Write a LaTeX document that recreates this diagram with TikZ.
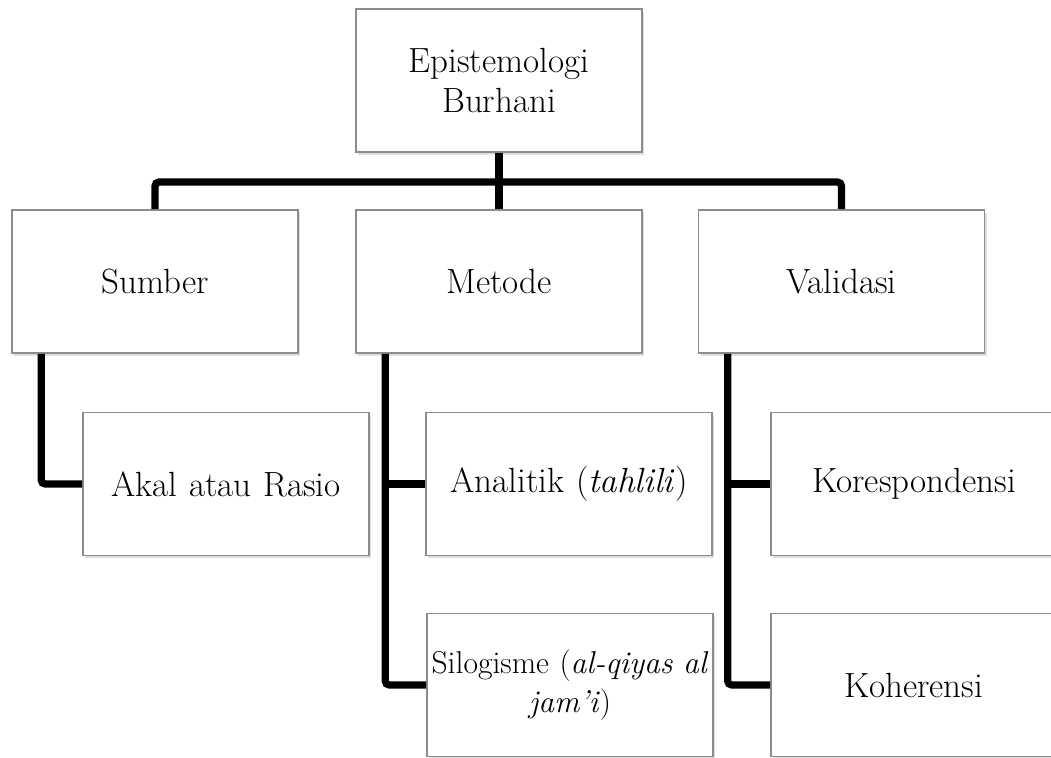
\documentclass[tikz,border=0pt]{standalone}
\usepackage{tikz}
\usetikzlibrary{positioning, shadows}
\definecolor{boxgray}{RGB}{140,140,140}

\begin{document}
\begin{tikzpicture}[
  x=0.5pt, y=-0.5pt,
  box/.style={draw=boxgray, line width=0.8pt, fill=white, minimum width=143pt,
              minimum height=71.5pt, inner sep=2pt, font=\fontsize{17.5}{20}\selectfont,
              align=center, text width=139pt,
              drop shadow={shadow xshift=1pt, shadow yshift=-1.5pt, opacity=0.25}},
  conn/.style={draw=black, line width=3.6pt, rounded corners=2pt},
]
  \useasboundingbox (0,0) rectangle (1051,758);

  \node[box] (root) at (499,80.5) {Epistemologi\\Burhani};

  \node[box] (sumber) at (155,281.5) {Sumber};
  \node[box] (metode) at (499,281.5) {Metode};
  \node[box] (valid) at (841.5,281.5) {Validasi};

  \node[box] (akal) at (226,484) {Akal atau Rasio};
  \node[box] (analitik) at (569,484) {Analitik (\textit{tahlili})};
  \node[box, font=\fontsize{15.8}{19.5}\selectfont] (silog) at (570,685)
    {\makebox[0pt][c]{Silogisme (\textit{al-qiyas al}}\\\textit{jam'i})};
  \node[box] (koresp) at (914,484) {Korespondensi};
  \node[box] (koher) at (914,685) {Koherensi};

  % top level
  \coordinate (bus) at (499,182);
  \draw[conn] (root.south) -- (metode.north);
  \draw[conn] (sumber.north) |- (bus) -| (valid.north);

  % children
  \draw[conn] ([xshift=15pt]sumber.south west) |- (akal.west);
  \draw[conn] ([xshift=15pt]metode.south west) |- (silog.west);
  \draw[conn] ([xshift=15pt]metode.south west |- analitik.west) -- (analitik.west);
  \draw[conn] ([xshift=15pt]valid.south west) |- (koher.west);
  \draw[conn] ([xshift=15pt]valid.south west |- koresp.west) -- (koresp.west);
\end{tikzpicture}
\end{document}
